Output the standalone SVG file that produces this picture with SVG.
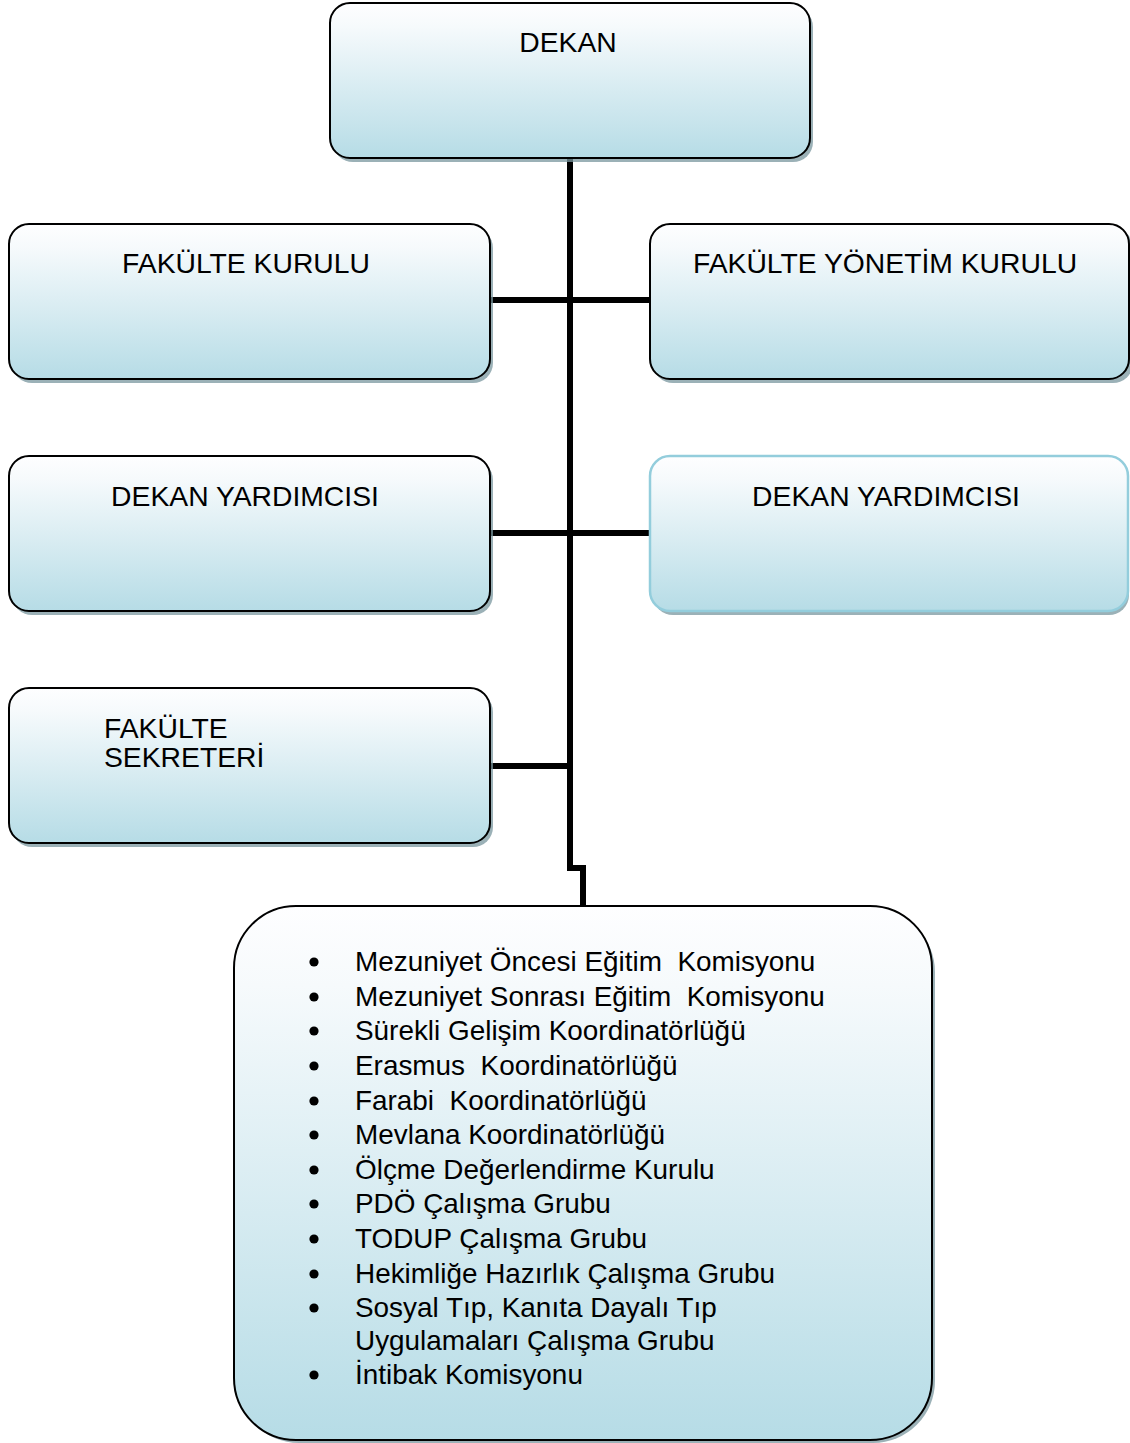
<svg xmlns="http://www.w3.org/2000/svg" width="1130" height="1443" viewBox="0 0 1130 1443">
<defs>
<linearGradient id="g" x1="0" y1="0" x2="0" y2="1">
<stop offset="0" stop-color="#fefeff"/>
<stop offset="0.15" stop-color="#f6fafc"/>
<stop offset="1" stop-color="#b6dce6"/>
</linearGradient>
<style>
.box{fill:url(#g);stroke:#000;stroke-width:2}
.boxb{fill:url(#g);stroke:#93cddc;stroke-width:2.5}
.sh{fill:#7a979f;opacity:0.75}
.t{font-family:"Liberation Sans",Arial,sans-serif;font-size:28.3px;fill:#000}
.l{font-family:"Liberation Sans",Arial,sans-serif;font-size:27.9px;fill:#000}
.c{text-anchor:middle}
.ln{fill:none;stroke:#000;stroke-width:6}
</style>
</defs>
<rect width="1130" height="1443" fill="#fff"/>
<g id="connectors">
<path class="ln" d="M570,158 V868 H583 V906"/>
<path class="ln" d="M490,300 H650"/>
<path class="ln" d="M490,533 H650"/>
<path class="ln" d="M490,766 H570"/>
</g>
<g id="dekan">
<rect class="sh" x="333" y="7" width="480" height="155" rx="20"/>
<rect class="box" x="330" y="3" width="480" height="155" rx="20"/>
<text class="t c" x="568" y="52">DEKAN</text>
</g>
<g id="fakulte-kurulu">
<rect class="sh" x="12" y="228" width="481" height="155" rx="20"/>
<rect class="box" x="9" y="224" width="481" height="155" rx="20"/>
<text class="t c" x="246" y="273">FAKÜLTE KURULU</text>
</g>
<g id="fakulte-yonetim-kurulu">
<rect class="sh" x="653" y="228" width="480" height="155" rx="20"/>
<rect class="box" x="650" y="224" width="479" height="155" rx="20"/>
<text class="t c" x="885" y="273">FAKÜLTE YÖNETİM KURULU</text>
</g>
<g id="dekan-yardimcisi-1">
<rect class="sh" x="12" y="460" width="481" height="155" rx="20"/>
<rect class="box" x="9" y="456" width="481" height="155" rx="20"/>
<text class="t c" x="245" y="506">DEKAN YARDIMCISI</text>
</g>
<g id="dekan-yardimcisi-2">
<rect class="sh" x="653" y="460" width="476" height="155" rx="20"/>
<rect class="boxb" x="650" y="456" width="478" height="155" rx="20"/>
<text class="t c" x="886" y="506">DEKAN YARDIMCISI</text>
</g>
<g id="fakulte-sekreteri">
<rect class="sh" x="12" y="692" width="481" height="155" rx="20"/>
<rect class="box" x="9" y="688" width="481" height="155" rx="20"/>
<text class="t" x="104" y="738">FAKÜLTE</text>
<text class="t" x="104" y="767">SEKRETERİ</text>
</g>
<g id="komisyonlar">
<rect class="sh" x="237" y="910" width="698" height="533" rx="62"/>
<rect class="box" x="234" y="906" width="698" height="534" rx="62"/>
<g fill="#000">
<circle cx="314" cy="962" r="4.6"/>
<circle cx="314" cy="997" r="4.6"/>
<circle cx="314" cy="1031" r="4.6"/>
<circle cx="314" cy="1066" r="4.6"/>
<circle cx="314" cy="1101" r="4.6"/>
<circle cx="314" cy="1135" r="4.6"/>
<circle cx="314" cy="1170" r="4.6"/>
<circle cx="314" cy="1204" r="4.6"/>
<circle cx="314" cy="1239" r="4.6"/>
<circle cx="314" cy="1274" r="4.6"/>
<circle cx="314" cy="1308" r="4.6"/>
<circle cx="314" cy="1375" r="4.6"/>
</g>
<g class="l">
<text x="355" y="971" xml:space="preserve">Mezuniyet Öncesi Eğitim  Komisyonu</text>
<text x="355" y="1006" xml:space="preserve">Mezuniyet Sonrası Eğitim  Komisyonu</text>
<text x="355" y="1040">Sürekli Gelişim Koordinatörlüğü</text>
<text x="355" y="1075" xml:space="preserve">Erasmus  Koordinatörlüğü</text>
<text x="355" y="1110" xml:space="preserve">Farabi  Koordinatörlüğü</text>
<text x="355" y="1144">Mevlana Koordinatörlüğü</text>
<text x="355" y="1179">Ölçme Değerlendirme Kurulu</text>
<text x="355" y="1213">PDÖ Çalışma Grubu</text>
<text x="355" y="1248">TODUP Çalışma Grubu</text>
<text x="355" y="1283">Hekimliğe Hazırlık Çalışma Grubu</text>
<text x="355" y="1317">Sosyal Tıp, Kanıta Dayalı Tıp</text>
<text x="355" y="1350">Uygulamaları Çalışma Grubu</text>
<text x="355" y="1384">İntibak Komisyonu</text>
</g>
</g>
</svg>
